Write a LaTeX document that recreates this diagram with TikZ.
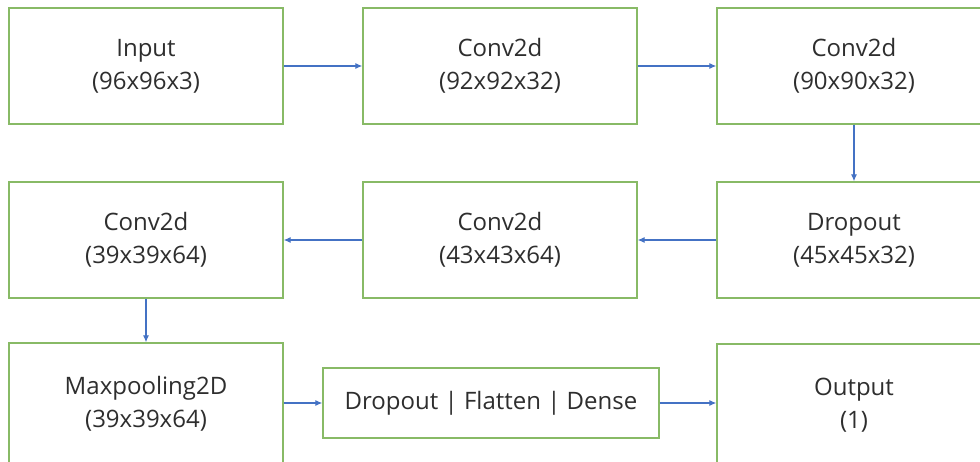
\documentclass[tikz,border=0pt]{standalone}
\usepackage{fontspec}
\setmainfont{Open Sans}
\usetikzlibrary{arrows.meta}
\definecolor{boxgreen}{RGB}{136,186,102}
\definecolor{arrowblue}{RGB}{68,114,196}
\begin{document}
\begin{tikzpicture}[x=1pt,y=-1pt,
  layer/.style={draw=boxgreen, line width=1.4pt, fill=white, minimum width=274pt, minimum height=116pt, inner sep=0pt, align=center, font=\fontsize{24}{33}\selectfont, text=black!82},
  flow/.style={draw=arrowblue, line width=1.1pt, -{Latex[length=7pt,width=6pt]}}]
\useasboundingbox (0,0) rectangle (980,461);
\clip (0,0) rectangle (980,461);
\fill[white] (0,0) rectangle (980,461);
\node[layer] (in) at (146,66) {Input\\(96x96x3)};
\node[layer] (c1) at (500,66) {Conv2d\\(92x92x32)};
\node[layer] (c2) at (854,66) {Conv2d\\(90x90x32)};
\node[layer] (d1) at (854,240) {Dropout\\(45x45x32)};
\node[layer] (c3) at (500,240) {Conv2d\\(43x43x64)};
\node[layer] (c4) at (146,240) {Conv2d\\(39x39x64)};
\node[layer, minimum height=122pt] (mp) at (146,404) {Maxpooling2D\\(39x39x64)};
\node[layer, minimum width=336pt, minimum height=70pt] (dfd) at (491,403) {Dropout | Flatten | Dense};
\node[layer, minimum height=122pt] (out) at (854,405) {Output\\(1)};
\draw[flow] (in) -- (c1);
\draw[flow] (c1) -- (c2);
\draw[flow] (c2) -- (d1);
\draw[flow] (d1) -- (c3);
\draw[flow] (c3) -- (c4);
\draw[flow] (c4) -- (mp);
\draw[flow] (mp.east |- dfd.west) -- (dfd.west);
\draw[flow] (dfd.east) -- (out.west |- dfd.east);
\end{tikzpicture}
\end{document}
